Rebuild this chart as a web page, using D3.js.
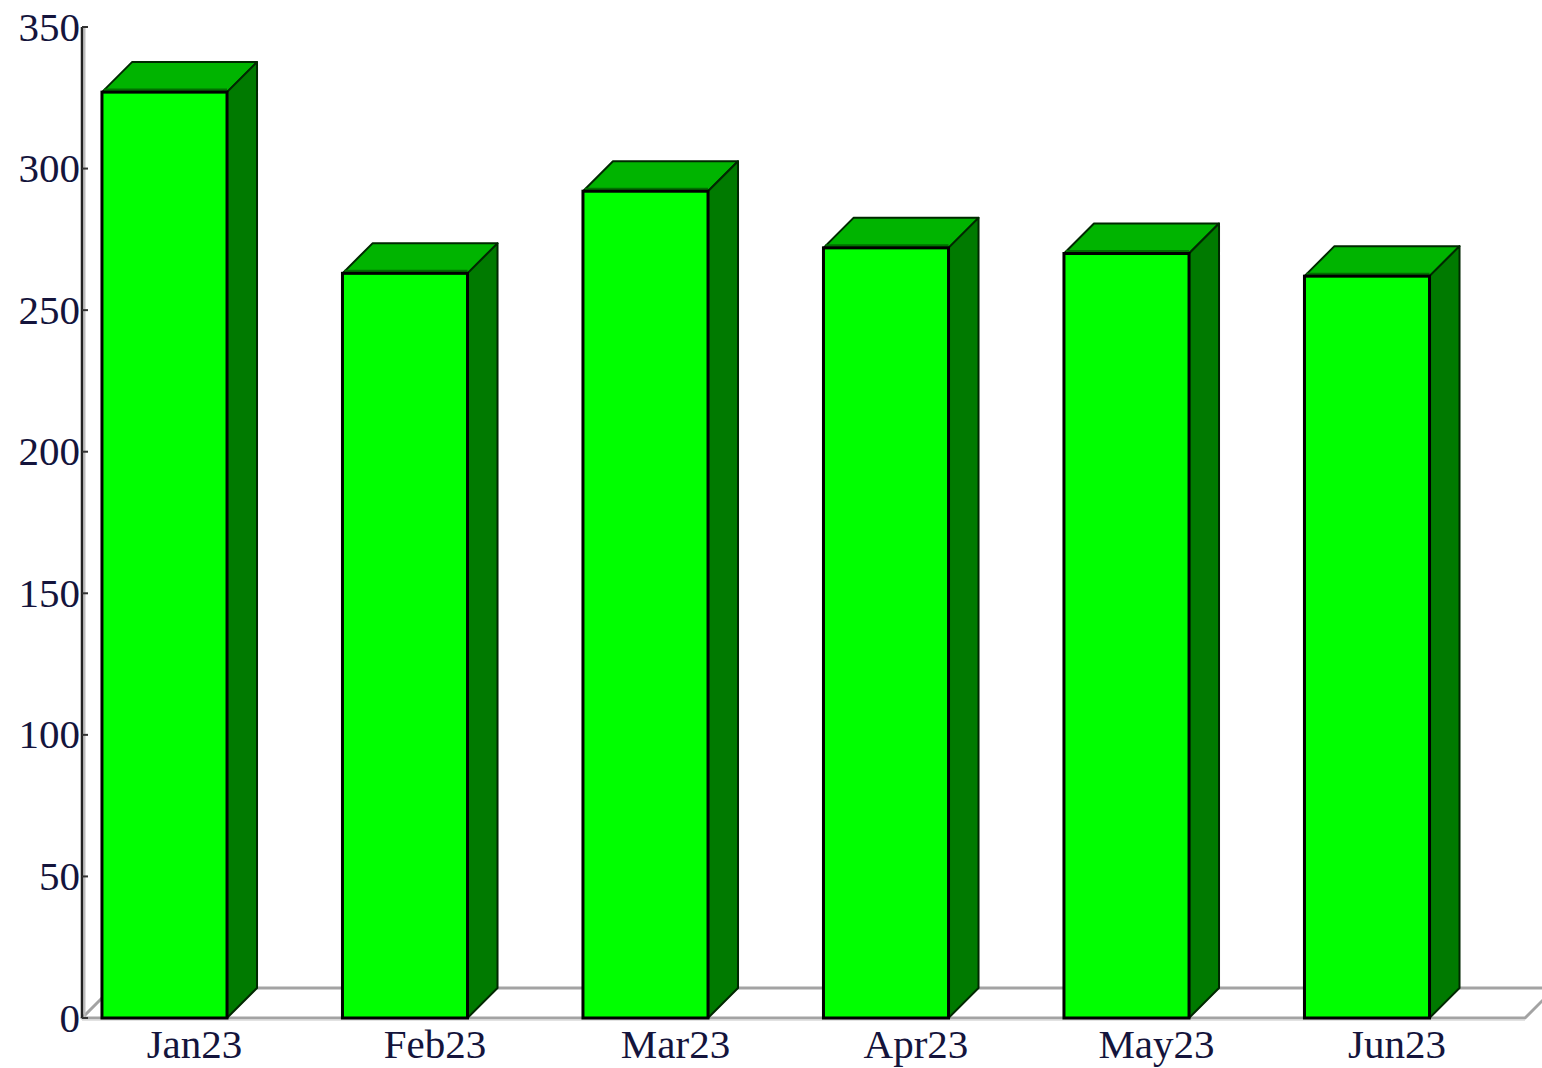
<!DOCTYPE html>
<html>
<head>
<meta charset="utf-8">
<script src="https://cdn.jsdelivr.net/npm/d3@7"></script>
<style>
  html, body { margin: 0; padding: 0; background: #fff; }
  svg { display: block; }
  .lbl { font-family: "Liberation Serif", "Times New Roman", serif; font-size: 41px; fill: #14143c; }
</style>
</head>
<body>
<div id="chart"></div>
<script>
// data
const months = ["Jan23", "Feb23", "Mar23", "Apr23", "May23", "Jun23"];
const values = [327, 263, 292, 272, 270, 262];
const yTicks = [0, 50, 100, 150, 200, 250, 300, 350];

const W = 1542, H = 1068;
const depth = 30; // 3d offset

const svg = d3.select("#chart").append("svg")
    .attr("width", W).attr("height", H);

const x = d3.scaleBand().domain(months).range([82, 1525]).padding(0);
const y = d3.scaleLinear().domain([0, 350]).range([1018, 27]);

const barOff = x.bandwidth() * 0.083;
const barW = x.bandwidth() * 0.52;

// floor (gray parallelogram outline)
const x0 = x.range()[0], x1 = x.range()[1], y0 = y(0);
const floor = svg.append("g").attr("fill", "none").attr("stroke-linejoin", "round");
floor.append("path")
    .attr("d", `M${x0},${y0} L${x1},${y0} L${x1 + depth},${y0 - depth} L${x0 + depth},${y0 - depth} Z`)
    .attr("stroke", "#a3a3a3").attr("stroke-width", 3);
floor.append("path")
    .attr("d", `M${x0},${y0 + 2} L${x1},${y0 + 2}`)
    .attr("stroke", "#d8d8d8").attr("stroke-width", 1.5);

// y axis
svg.append("line")
    .attr("x1", x0 + 2.5).attr("x2", x0 + 2.5)
    .attr("y1", y(350)).attr("y2", y0)
    .attr("stroke", "#bdbdbd").attr("stroke-width", 2);
svg.append("line")
    .attr("x1", x0).attr("x2", x0)
    .attr("y1", y(350)).attr("y2", y0)
    .attr("stroke", "#222").attr("stroke-width", 2.5);

const tk = svg.append("g");
tk.selectAll("line").data(yTicks).join("line")
    .attr("x1", x0).attr("x2", x0 + 6)
    .attr("y1", d => y(d)).attr("y2", d => y(d))
    .attr("stroke", "#333").attr("stroke-width", 2);
tk.selectAll("text").data(yTicks).join("text")
    .attr("class", "lbl")
    .attr("x", x0 - 2)
    .attr("y", d => y(d))
    .attr("dy", "0.33em")
    .attr("text-anchor", "end")
    .text(d => d);

// bars
const bars = svg.append("g").selectAll("g")
    .data(months.map((m, i) => ({ m, v: values[i] })))
    .join("g");

bars.each(function(d) {
    const g = d3.select(this);
    const bx = x(d.m) + barOff, bt = y(d.v), bb = y0;

    // top face
    g.append("path")
        .attr("d", `M${bx},${bt} L${bx + depth},${bt - depth} L${bx + barW + depth},${bt - depth} L${bx + barW},${bt} Z`)
        .attr("fill", "#00b400")
        .attr("stroke", "#002800").attr("stroke-width", 2).attr("stroke-linejoin", "round");
    // darker strip on front of top
    g.append("line")
        .attr("x1", bx + 2).attr("x2", bx + barW)
        .attr("y1", bt - 2).attr("y2", bt - 2)
        .attr("stroke", "#007000").attr("stroke-width", 3);
    // side face
    g.append("path")
        .attr("d", `M${bx + barW},${bt} L${bx + barW + depth},${bt - depth} L${bx + barW + depth},${bb - depth} L${bx + barW},${bb} Z`)
        .attr("fill", "#007a00")
        .attr("stroke", "#002800").attr("stroke-width", 2).attr("stroke-linejoin", "round");
    // front face
    g.append("rect")
        .attr("x", bx).attr("y", bt)
        .attr("width", barW).attr("height", bb - bt)
        .attr("fill", "#00ff00")
        .attr("stroke", "#000").attr("stroke-width", 3);
});

// category labels
svg.append("g").selectAll("text").data(months).join("text")
    .attr("class", "lbl")
    .attr("x", d => x(d) + barOff + barW / 2 + depth)
    .attr("y", 1058)
    .attr("text-anchor", "middle")
    .text(d => d);
</script>
</body>
</html>
